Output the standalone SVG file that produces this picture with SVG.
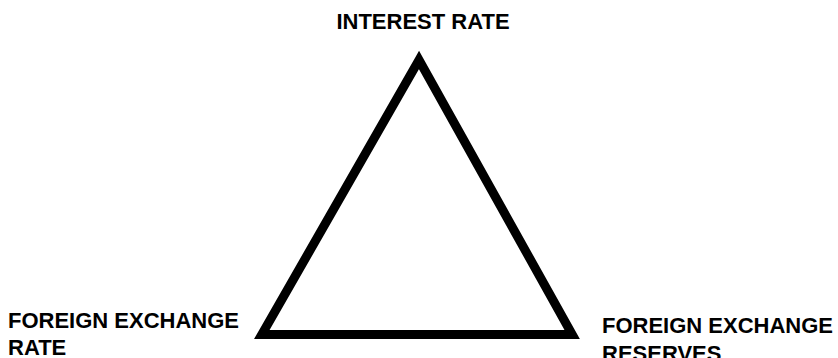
<svg xmlns="http://www.w3.org/2000/svg" width="838" height="358" viewBox="0 0 838 358">
<style>
.lbl{font-family:"Liberation Sans",Arial,sans-serif;font-weight:bold;font-size:22px;fill:#000}
.edge{fill:none;stroke:#000;stroke-width:9;stroke-linejoin:miter;stroke-miterlimit:10}
</style>
<rect width="838" height="358" fill="#fff"/>
<g id="connectors">
<polygon class="edge" points="419,60 261.8,334.5 572.2,334.5"/>
</g>
<g id="interest-rate">
<text class="lbl" x="423" y="29" text-anchor="middle">INTEREST RATE</text>
</g>
<g id="fx-rate">
<text class="lbl" x="8" y="328">FOREIGN EXCHANGE</text>
<text class="lbl" x="8" y="355">RATE</text>
</g>
<g id="fx-reserves">
<text class="lbl" x="602" y="333">FOREIGN EXCHANGE</text>
<text class="lbl" x="602" y="361">RESERVES</text>
</g>
</svg>
